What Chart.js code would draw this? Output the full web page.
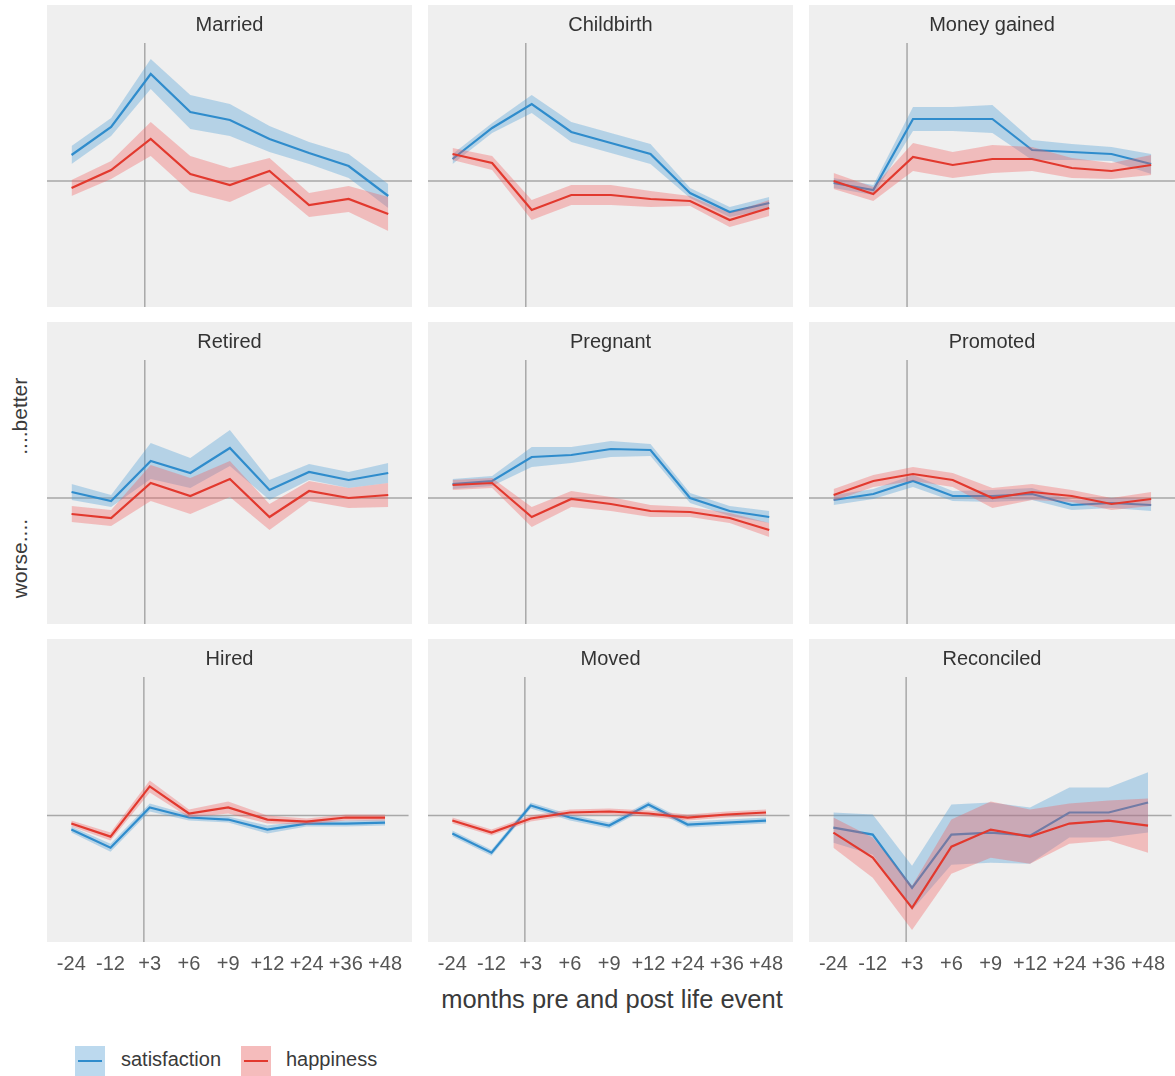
<!DOCTYPE html>
<html><head><meta charset="utf-8">
<script src="https://cdn.jsdelivr.net/npm/chart.js@4.4.1/dist/chart.umd.min.js"></script>
<style>
body{margin:0;background:#fff;width:1175px;height:1076px;position:relative;overflow:hidden;font-family:"Liberation Sans",Arial,Helvetica,sans-serif;}
.panel{position:absolute;}
#xtitle{position:absolute;left:362px;width:500px;top:985px;text-align:center;font-size:25.5px;color:#3a3a3a;}
#ylab{position:absolute;left:20px;top:488px;transform:translate(-50%,-50%) rotate(-90deg);font-size:21px;color:#3a3a3a;white-space:pre;}
.key{position:absolute;top:1046px;width:30px;height:30px;}
.key i{position:absolute;left:3px;right:3px;top:14px;height:2px;}
.ktext{position:absolute;top:1048px;font-size:20px;color:#3a3a3a;}
</style></head><body>
<div id="ylab">worse....           ....better</div>
<div id="xtitle">months pre and post life event</div>
<div class="key" style="left:75px;background:#bcd9ee"><i style="background:#2f8ccc"></i></div>
<div class="ktext" style="left:121px">satisfaction</div>
<div class="key" style="left:241px;background:#f5bcbc"><i style="background:#e2392e"></i></div>
<div class="ktext" style="left:286px">happiness</div>
<script>
const months = ['-24','-12','+3','+6','+9','+12','+24','+36','+48'];
const events = ['Married','Childbirth','Money gained','Retired','Pregnant','Promoted','Hired','Moved','Reconciled'];
const eventPosition = 1.85; // month 0, between -12 and +3

const marriedSat     = [0.26, 0.54, 1.07, 0.69, 0.61, 0.42, 0.28, 0.15, -0.15];
const marriedSatCI   = [0.09, 0.09, 0.15, 0.17, 0.16, 0.13, 0.11, 0.12, 0.12];
const marriedHap     = [-0.07, 0.11, 0.42, 0.07, -0.04, 0.10, -0.24, -0.18, -0.33];
const marriedHapCI   = [0.08, 0.09, 0.17, 0.18, 0.17, 0.13, 0.12, 0.13, 0.17];

const childSat       = [0.22, 0.53, 0.77, 0.49, 0.38, 0.27, -0.12, -0.31, -0.22];
const childSatCI     = [0.05, 0.05, 0.09, 0.10, 0.10, 0.10, 0.05, 0.05, 0.06];
const childHap       = [0.27, 0.18, -0.29, -0.14, -0.14, -0.18, -0.20, -0.39, -0.27];
const childHapCI     = [0.06, 0.07, 0.10, 0.10, 0.10, 0.08, 0.05, 0.07, 0.08];

const moneySat       = [-0.02, -0.09, 0.62, 0.62, 0.62, 0.31, 0.29, 0.27, 0.17];
const moneySatCI     = [0.05, 0.05, 0.12, 0.12, 0.14, 0.10, 0.08, 0.07, 0.10];
const moneyHap       = [0.00, -0.13, 0.24, 0.16, 0.22, 0.22, 0.13, 0.10, 0.16];
const moneyHapCI     = [0.08, 0.07, 0.14, 0.13, 0.14, 0.12, 0.10, 0.08, 0.10];

const retiredSat     = [0.06, -0.03, 0.37, 0.25, 0.50, 0.08, 0.26, 0.18, 0.25];
const retiredSatCI   = [0.08, 0.06, 0.18, 0.15, 0.18, 0.10, 0.08, 0.08, 0.10];
const retiredHap     = [-0.16, -0.20, 0.15, 0.02, 0.19, -0.19, 0.07, 0.00, 0.03];
const retiredHapCI   = [0.08, 0.08, 0.18, 0.18, 0.18, 0.13, 0.10, 0.10, 0.12];

const pregnantSat    = [0.14, 0.17, 0.41, 0.43, 0.49, 0.48, 0.00, -0.13, -0.19];
const pregnantSatCI  = [0.05, 0.05, 0.10, 0.08, 0.08, 0.06, 0.05, 0.05, 0.06];
const pregnantHap    = [0.13, 0.15, -0.19, -0.01, -0.06, -0.13, -0.14, -0.20, -0.32];
const pregnantHapCI  = [0.05, 0.05, 0.10, 0.08, 0.07, 0.06, 0.05, 0.05, 0.07];

const promotedSat    = [-0.02, 0.04, 0.17, 0.02, 0.02, 0.04, -0.07, -0.05, -0.07];
const promotedSatCI  = [0.05, 0.05, 0.06, 0.05, 0.06, 0.06, 0.05, 0.05, 0.06];
const promotedHap    = [0.03, 0.17, 0.24, 0.18, 0.00, 0.06, 0.02, -0.06, -0.01];
const promotedHapCI  = [0.06, 0.06, 0.07, 0.07, 0.10, 0.08, 0.06, 0.06, 0.07];

const hiredSat       = [-0.14, -0.32, 0.08, -0.02, -0.04, -0.14, -0.08, -0.08, -0.07];
const hiredSatCI     = [0.03, 0.04, 0.04, 0.03, 0.03, 0.04, 0.03, 0.03, 0.03];
const hiredHap       = [-0.08, -0.21, 0.29, 0.02, 0.08, -0.04, -0.06, -0.02, -0.02];
const hiredHapCI     = [0.03, 0.04, 0.06, 0.04, 0.06, 0.04, 0.03, 0.03, 0.03];

const movedSat       = [-0.18, -0.37, 0.10, -0.02, -0.10, 0.11, -0.09, -0.07, -0.05];
const movedSatCI     = [0.03, 0.03, 0.03, 0.03, 0.03, 0.03, 0.03, 0.03, 0.03];
const movedHap       = [-0.05, -0.17, -0.03, 0.03, 0.04, 0.02, -0.02, 0.01, 0.03];
const movedHapCI     = [0.03, 0.03, 0.03, 0.03, 0.03, 0.03, 0.03, 0.03, 0.03];

const reconciledSat   = [-0.12, -0.19, -0.72, -0.19, -0.17, -0.20, 0.03, 0.03, 0.13];
const reconciledSatCI = [0.15, 0.20, 0.22, 0.30, 0.30, 0.28, 0.25, 0.25, 0.30];
const reconciledHap   = [-0.17, -0.42, -0.92, -0.31, -0.14, -0.21, -0.08, -0.05, -0.10];
const reconciledHapCI = [0.15, 0.20, 0.22, 0.27, 0.28, 0.27, 0.20, 0.20, 0.27];

const yMin = -1.26, yMax = 1.38;

const panelData = {
  'Married':      [marriedSat, marriedSatCI, marriedHap, marriedHapCI],
  'Childbirth':   [childSat, childSatCI, childHap, childHapCI],
  'Money gained': [moneySat, moneySatCI, moneyHap, moneyHapCI],
  'Retired':      [retiredSat, retiredSatCI, retiredHap, retiredHapCI],
  'Pregnant':     [pregnantSat, pregnantSatCI, pregnantHap, pregnantHapCI],
  'Promoted':     [promotedSat, promotedSatCI, promotedHap, promotedHapCI],
  'Hired':        [hiredSat, hiredSatCI, hiredHap, hiredHapCI],
  'Moved':        [movedSat, movedSatCI, movedHap, movedHapCI],
  'Reconciled':   [reconciledSat, reconciledSatCI, reconciledHap, reconciledHapCI]
};

const BLUE = '#2f8ccc', BLUE_FILL = 'rgba(70,155,215,0.34)';
const RED = '#e2392e', RED_FILL = 'rgba(242,90,90,0.34)';
const FONT = '"Liberation Sans", Arial, Helvetica, sans-serif';

const bgPlugin = {
  id: 'bg',
  beforeDraw(chart) {
    const {ctx, chartArea: a} = chart;
    ctx.save(); ctx.fillStyle = '#efefef';
    ctx.fillRect(0, 0, chart.width, a.bottom);
    ctx.restore();
  }
};
const refLines = {
  id: 'refLines',
  beforeDatasetsDraw(chart) {
    const {ctx, chartArea: a, scales: {x, y}} = chart;
    const y0 = y.getPixelForValue(0), x0 = x.getPixelForValue(eventPosition);
    ctx.save(); ctx.strokeStyle = '#a8a8a8'; ctx.lineWidth = 1.5;
    ctx.beginPath();
    ctx.moveTo(a.left, y0); ctx.lineTo(a.right, y0);
    ctx.moveTo(x0, a.top); ctx.lineTo(x0, a.bottom);
    ctx.stroke(); ctx.restore();
  }
};

const pts = (vals, ci, sign) => vals.map((v, i) => ({x: i, y: v + sign * (ci ? ci[i] : 0)}));
const NONE = 'rgba(0,0,0,0)';

const colLeft = [47, 428, 809], colWidth = [365, 365, 366];
const rowTop = [5, 322, 639];

events.forEach((name, k) => {
  const r = Math.floor(k / 3), c = k % 3;
  const bottom = r === 2;
  const div = document.createElement('div');
  div.className = 'panel';
  div.style.left = colLeft[c] + 'px';
  div.style.top = rowTop[r] + 'px';
  div.style.width = colWidth[c] + 'px';
  div.style.height = (bottom ? 347 : 302) + 'px';
  const cv = document.createElement('canvas');
  div.appendChild(cv);
  document.body.appendChild(div);
  const [sat, satCI, hap, hapCI] = panelData[name];
  new Chart(cv, {
    type: 'line',
    data: {
      datasets: [
        {label: 'happiness', data: pts(hap, null, 0), borderColor: RED, borderWidth: 2.2, pointRadius: 0, fill: false, tension: 0},
        {data: pts(hap, hapCI, 1), borderColor: NONE, borderWidth: 0, pointRadius: 0, backgroundColor: RED_FILL, fill: '+1', tension: 0},
        {data: pts(hap, hapCI, -1), borderColor: NONE, borderWidth: 0, pointRadius: 0, fill: false, tension: 0},
        {label: 'satisfaction', data: pts(sat, null, 0), borderColor: BLUE, borderWidth: 2.2, pointRadius: 0, fill: false, tension: 0},
        {data: pts(sat, satCI, 1), borderColor: NONE, borderWidth: 0, pointRadius: 0, backgroundColor: BLUE_FILL, fill: '+1', tension: 0},
        {data: pts(sat, satCI, -1), borderColor: NONE, borderWidth: 0, pointRadius: 0, fill: false, tension: 0}
      ]
    },
    options: {
      animation: false, responsive: true, maintainAspectRatio: false, devicePixelRatio: 1,
      layout: {padding: 0},
      plugins: {
        legend: {display: false}, tooltip: {enabled: false},
        title: {display: true, text: name, color: '#333', font: {size: 20, family: FONT, weight: 'normal'}, padding: {top: 8, bottom: 6}}
      },
      scales: {
        x: {
          type: 'linear', min: -0.62, max: 8.6, display: bottom,
          grid: {display: false, drawTicks: false}, border: {display: false},
          afterBuildTicks: s => { s.ticks = months.map((_, i) => ({value: i})); },
          ticks: {callback: v => months[v], font: {size: 20, family: FONT}, color: '#555', padding: 10, maxRotation: 0, autoSkip: false}
        },
        y: {display: false, min: yMin, max: yMax}
      }
    },
    plugins: [bgPlugin, refLines]
  });
});
</script>
</body></html>
